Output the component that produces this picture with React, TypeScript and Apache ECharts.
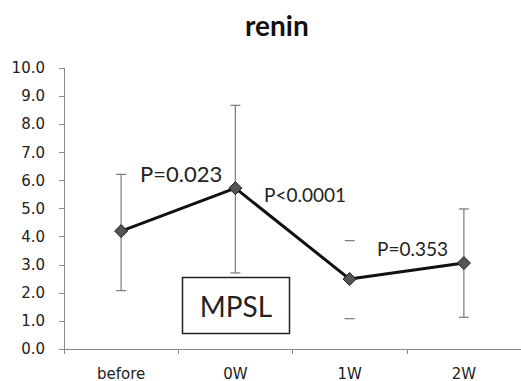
import React, { useEffect, useRef } from "react";
import * as echarts from "echarts";

const categories = ["before", "0W", "1W", "2W"];
const means = [4.2, 5.73, 2.49, 3.06];
const errLow = [2.08, 2.71, 1.08, 1.13];
const errHigh = [6.22, 8.68, 3.86, 4.99];
const errStem = [1, 1, 0, 1];
const yTicks = { min: 0, max: 10, interval: 1 };
const pLabels = ["P=0.023", "P<0.0001", "P=0.353"];
const titleText = "renin";
const boxText = "MPSL";

export default function App() {
  const ref = useRef<HTMLDivElement>(null);
  useEffect(() => {
    if (!ref.current) return;
    const chart = echarts.init(ref.current, undefined, { renderer: "svg" });
    const errData = categories.map((_, i) => [i, errLow[i], errHigh[i], errStem[i]]);
    chart.setOption({
      animation: false,
      backgroundColor: "#ffffff",
      title: {
        text: titleText,
        left: 240,
        top: 6,
        textStyle: { fontFamily: "Lato", fontWeight: "bold", fontSize: 28, color: "#111" },
      },
      grid: { left: 64, right: -10, top: 68.3, bottom: 31.6, containLabel: false },
      xAxis: {
        type: "category",
        data: categories,
        boundaryGap: true,
        axisLine: { lineStyle: { color: "#8a8a8a", width: 1 } },
        axisTick: { show: true, alignWithLabel: false, length: 5, lineStyle: { color: "#8a8a8a" } },
        axisLabel: { margin: 17, fontFamily: "DejaVu Sans", fontSize: 15, color: "#222" },
        splitLine: { show: false },
      },
      yAxis: {
        type: "value",
        min: yTicks.min,
        max: yTicks.max,
        interval: yTicks.interval,
        axisLine: { show: true, lineStyle: { color: "#8a8a8a", width: 1 } },
        axisTick: { show: true, length: 5, lineStyle: { color: "#8a8a8a" } },
        axisLabel: {
          margin: 19,
          fontFamily: "DejaVu Sans",
          fontSize: 15,
          color: "#222",
          formatter: (v: number) => v.toFixed(1),
        },
        splitLine: { show: false },
      },
      series: [
        {
          type: "custom",
          data: errData,
          z: 1,
          renderItem: (params: any, api: any) => {
            const x = api.value(0);
            const lo = api.coord([x, api.value(1)]);
            const hi = api.coord([x, api.value(2)]);
            const stem = api.value(3);
            const hw = 5;
            const style = { stroke: "#7a7a7a", lineWidth: 1.2 };
            const children: any[] = [
              { type: "line", shape: { x1: lo[0] - hw, y1: lo[1], x2: lo[0] + hw, y2: lo[1] }, style },
              { type: "line", shape: { x1: hi[0] - hw, y1: hi[1], x2: hi[0] + hw, y2: hi[1] }, style },
            ];
            if (stem) {
              children.push({ type: "line", shape: { x1: lo[0], y1: lo[1], x2: hi[0], y2: hi[1] }, style });
            }
            return { type: "group", children };
          },
        },
        {
          type: "line",
          data: means,
          z: 3,
          symbol: "diamond",
          symbolSize: 13,
          itemStyle: { color: "#555555", borderColor: "#1a1a1a", borderWidth: 1 },
          lineStyle: { color: "#111111", width: 3 },
        },
      ],
      graphic: [
        {
          type: "text",
          x: 140,
          y: 173,
          style: { text: pLabels[0], font: "22px Lato", fill: "#222", textVerticalAlign: "middle" },
        },
        {
          type: "text",
          x: 264,
          y: 194,
          style: { text: pLabels[1], font: "19px Lato", fill: "#222", textVerticalAlign: "middle" },
        },
        {
          type: "text",
          x: 377,
          y: 248,
          style: { text: pLabels[2], font: "19px Lato", fill: "#222", textVerticalAlign: "middle" },
        },
        {
          type: "rect",
          shape: { x: 182.5, y: 277.5, width: 107, height: 56 },
          style: { fill: "#ffffff", stroke: "#222", lineWidth: 1.5 },
          z: 10,
        },
        {
          type: "text",
          x: 236,
          y: 306,
          z: 11,
          style: { text: boxText, font: "28px Lato", fill: "#222", textAlign: "center", textVerticalAlign: "middle" },
        },
      ],
    });
    return () => chart.dispose();
  }, []);
  return <div ref={ref} style={{ width: 521, height: 381, position: "absolute", left: 0, top: 0 }} />;
}
